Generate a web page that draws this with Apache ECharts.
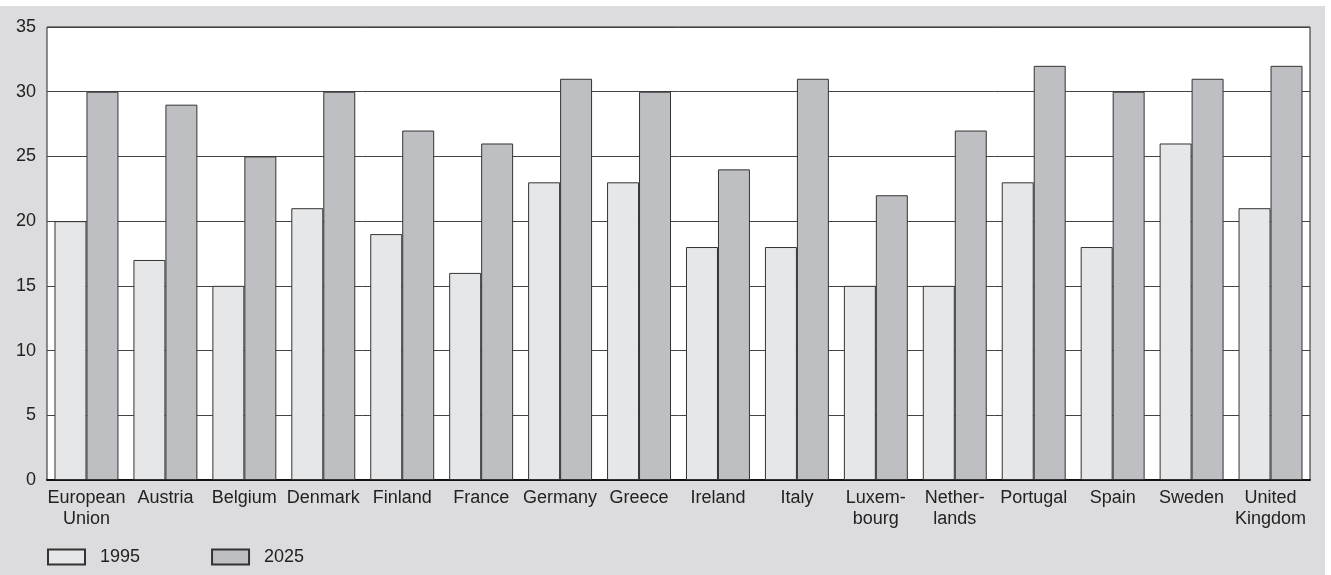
<!DOCTYPE html>
<html><head><meta charset="utf-8">
<script src="https://cdn.jsdelivr.net/npm/echarts@6/dist/echarts.min.js"></script>
<style>html,body{margin:0;padding:0;background:#fff}#c{width:1331px;height:575px}</style>
</head><body><div id="c"></div>
<script>
const categories = ["European\nUnion","Austria","Belgium","Denmark","Finland","France","Germany","Greece","Ireland","Italy","Luxem-\nbourg","Nether-\nlands","Portugal","Spain","Sweden","United\nKingdom"];
const values1995 = [20,17,15,21,19,16,23,23,18,18,15,15,23,18,26,21];
const values2025 = [30,29,25,30,27,26,31,30,24,31,22,27,32,30,31,32];
const yTicks = {min:0,max:35,interval:5};

const chart = echarts.init(document.getElementById('c'), null, {renderer:'canvas'});
const font = 'Liberation Sans, Arial, sans-serif';
chart.setOption({
  animation:false,
  backgroundColor:'#fff',
  graphic:[{type:'rect',left:0,top:6,shape:{width:1325,height:569},style:{fill:'#dcdcde'},z:-10,silent:true}],
  grid:{left:47,top:27,width:1263,height:453,show:true,backgroundColor:'#fff',borderColor:'#222',borderWidth:1,containLabel:false},
  legend:{left:47,top:548,padding:0,itemWidth:37,itemHeight:15,itemGap:71,icon:'rect',
    textStyle:{fontFamily:font,fontSize:18,color:'#222',padding:[0,0,0,10]},
    data:['1995','2025']},
  xAxis:{type:'category',data:categories,
    axisLine:{lineStyle:{color:'#111',width:2}},axisTick:{show:false},
    axisLabel:{fontFamily:font,fontSize:18,color:'#222',margin:8,lineHeight:21,interval:0}},
  yAxis:{type:'value',min:yTicks.min,max:yTicks.max,interval:yTicks.interval,
    axisLine:{show:false},axisTick:{show:false},
    splitLine:{lineStyle:{color:'#444',width:1}},
    axisLabel:{fontFamily:font,fontSize:18,color:'#222',margin:11}},
  series:[
    {name:'1995',type:'bar',data:values1995,barGap:'0%',barCategoryGap:'19%',
     itemStyle:{color:'#e6e7e9',borderColor:'#333',borderWidth:1}},
    {name:'2025',type:'bar',data:values2025,
     itemStyle:{color:'#bebfc2',borderColor:'#333',borderWidth:1}}
  ]
});
</script></body></html>
